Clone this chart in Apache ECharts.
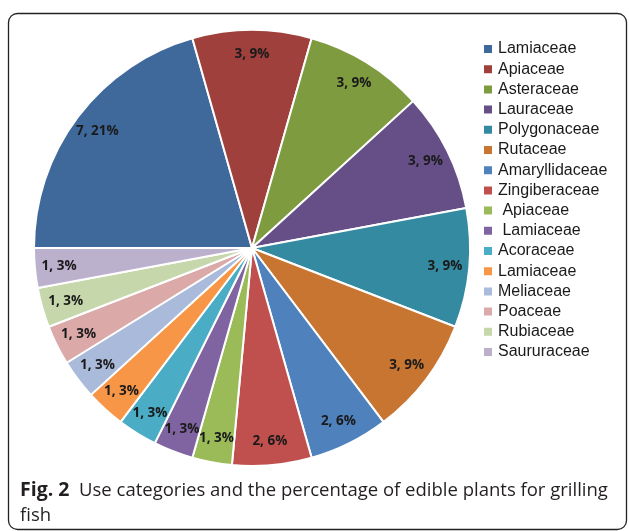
<!DOCTYPE html>
<html>
<head>
<meta charset="utf-8">
<script src="https://cdn.jsdelivr.net/npm/echarts@6/dist/echarts.min.js"></script>
<style>
  html, body { margin: 0; padding: 0; background: #fff; }
  #chart { width: 629px; height: 531px; }
</style>
</head>
<body>
<div id="chart"></div>
<script>
// families (legend order = slice order, clockwise from 9 o'clock)
// leading/trailing spaces keep the repeated family names apart, as in the original legend
var families = ["Lamiaceae", "Apiaceae", "Asteraceae", "Lauraceae", "Polygonaceae", "Rutaceae",
  "Amaryllidaceae", "Zingiberaceae", " Apiaceae", " Lamiaceae", "Acoraceae", "Lamiaceae ",
  "Meliaceae", "Poaceae", "Rubiaceae", "Saururaceae"];
var counts = [7, 3, 3, 3, 3, 3, 2, 2, 1, 1, 1, 1, 1, 1, 1, 1];
var colors = ["#3f689b", "#a0403d", "#7f9b40", "#664f87", "#348aa0", "#c97532",
  "#4f81bd", "#c0504d", "#9bbb59", "#8064a2", "#4bacc6", "#f79646",
  "#a9badb", "#daa9a8", "#c6d7ab", "#bcb1cd"];

var total = counts.reduce(function (a, b) { return a + b; }, 0);
var pieData = families.map(function (n, i) { return { name: n, value: counts[i] }; });

var center = [252, 248];
var R = 218;

var chart = echarts.init(document.getElementById("chart"));
chart.setOption({
  animation: false,
  color: colors,
  title: {
    left: 15,
    top: 473,
    text: "{b|Fig. 2}  Use categories and the percentage of edible plants for grilling\nfish",
    textStyle: {
      fontFamily: "Open Sans",
      fontSize: 18.5,
      fontWeight: "normal",
      color: "#231f20",
      lineHeight: 25,
      rich: {
        b: { fontFamily: "Open Sans", fontSize: 19.5, fontWeight: "bold", color: "#231f20", lineHeight: 25 }
      }
    }
  },
  legend: {
    orient: "vertical",
    left: 482,
    top: 39,
    padding: 0,
    itemWidth: 10,
    itemHeight: 10,
    itemGap: 0.2,
    icon: "rect",
    data: families,
    textStyle: { fontFamily: "Liberation Sans", fontSize: 16, color: "#1a1a1a", lineHeight: 20 }
  },
  graphic: [{
    type: "rect",
    silent: true,
    shape: { x: 8.5, y: 13.5, width: 618, height: 516, r: 9 },
    style: { fill: "none", stroke: "#222", lineWidth: 1.3 }
  }],
  series: [
    {
      type: "pie",
      center: center,
      radius: [0, R],
      startAngle: 180,
      clockwise: true,
      silent: true,
      label: { show: false },
      labelLine: { show: false },
      itemStyle: { borderColor: "#fff", borderWidth: 2 },
      data: pieData
    },
    {
      // transparent ring that only carries the labels near the rim
      type: "pie",
      center: center,
      radius: [R * 0.74, R * 1.01],
      startAngle: 180,
      clockwise: true,
      silent: true,
      avoidLabelOverlap: false,
      labelLayout: { hideOverlap: false },
      itemStyle: { color: "transparent" },
      labelLine: { show: false },
      label: {
        show: true,
        position: "inside",
        fontFamily: "Open Sans",
        fontWeight: "bold",
        fontSize: 13.5,
        color: "#1a1a1a",
        formatter: function (p) {
          return p.value + ", " + Math.round(p.value / total * 100) + "%";
        }
      },
      data: pieData
    }
  ]
});
</script>
</body>
</html>
